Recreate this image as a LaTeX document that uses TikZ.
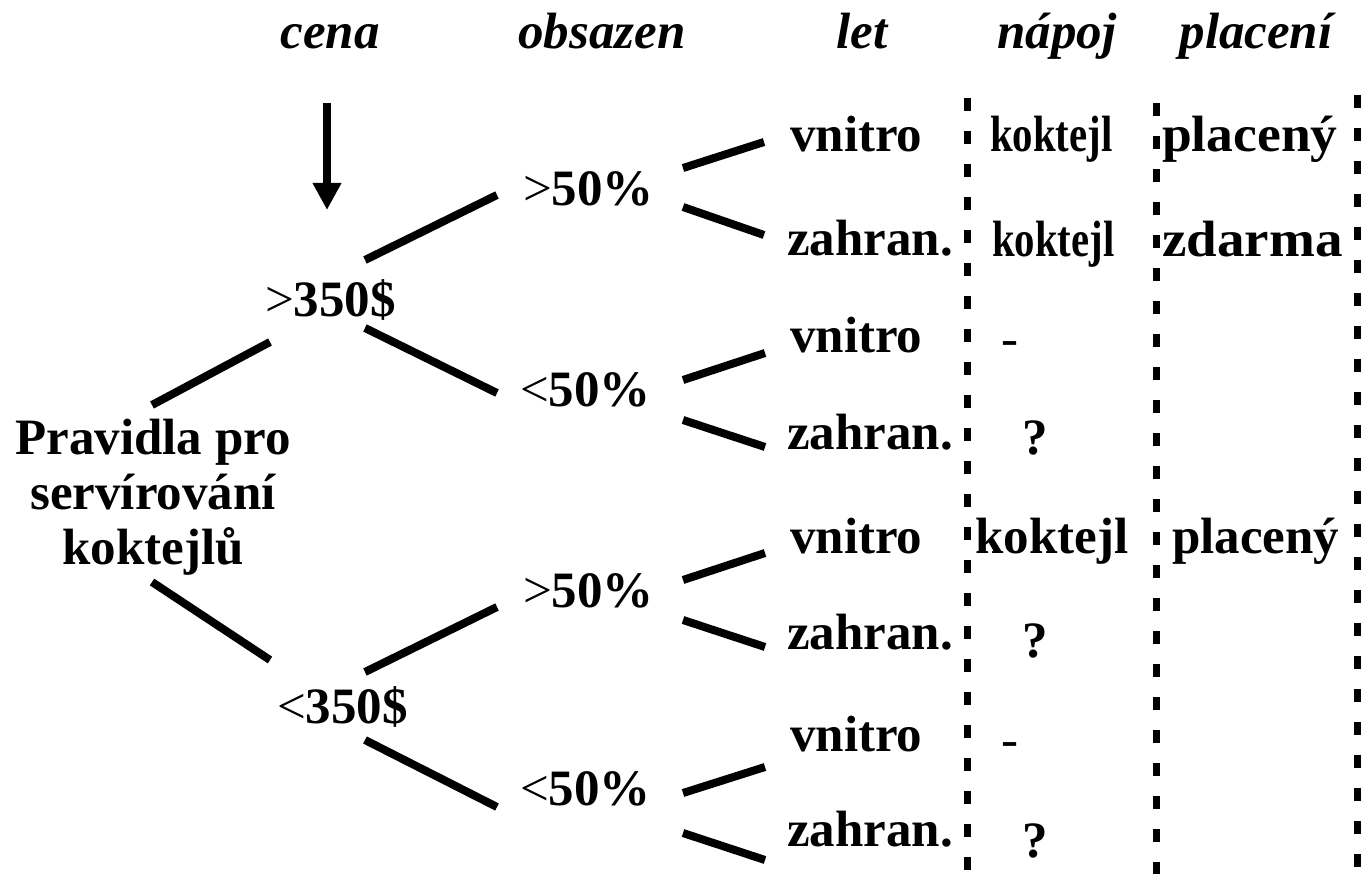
\documentclass[tikz,border=0pt]{standalone}
\usepackage{fontspec}
\setmainfont{Liberation Serif}
\usetikzlibrary{arrows.meta}

\tikzset{
  lbl/.style={inner sep=0pt, anchor=base west, font=\bfseries\fontsize{51}{51}\selectfont},
  hdr/.style={inner sep=0pt, anchor=base, font=\bfseries\itshape\fontsize{51}{51}\selectfont},
  branch/.style={line width=8pt},
  divider/.style={line width=7pt, dash pattern=on 13pt off 20pt},
  pointer/.style={line width=8pt, -{Triangle[length=27pt,width=27pt]}}
}

\begin{document}
\begin{tikzpicture}[x=1pt, y=-1pt]
\useasboundingbox (0,0) rectangle (1361,874);

% column headings
\node[hdr] (hcena) at (330,49) {cena};
\node[hdr] (hobs)  at (602,49) {obsazen};
\node[hdr] (hlet)  at (862,49) {let};
\node[hdr] (hnap)  at (1057,49) {nápoj};
\node[hdr] (hpla)  at (1256,49) {placení};

% price arrow
\coordinate (tip) at (327,210);
\draw[pointer] ([shift={(-3,54)}]hcena.base) -- (tip);

% root
\node[inner sep=0pt, align=center, font=\bfseries\fontsize{51}{55}\selectfont]
  (root) at (153,497) {Pravidla pro\\servírování\\koktejlů};

% price level
\node[lbl] (hi) at (265,317) {{\mdseries >}350\$};
\node[lbl] (lo) at (277,723) {{\mdseries <}350\$};

% occupancy level
\node[lbl] (a1) at (523,206) {{\mdseries >}50\%};
\node[lbl] (a2) at (520,407) {{\mdseries <}50\%};
\node[lbl] (a3) at (523,607) {{\mdseries >}50\%};
\node[lbl] (a4) at (520,805) {{\mdseries <}50\%};

% flight type
\node[lbl] (v1) at (790,152) {vnitro};
\node[lbl] (z2) at (787,256) {zahran.};
\node[lbl] (v3) at (790,353) {vnitro};
\node[lbl] (z4) at (787,450) {zahran.};
\node[lbl] (v5) at (790,553) {vnitro};
\node[lbl] (z6) at (787,649) {zahran.};
\node[lbl] (v7) at (790,751) {vnitro};
\node[lbl] (z8) at (787,846) {zahran.};

% drink
\node[lbl] (d1) at (990,152) {\scalebox{0.8}[1]{koktejl}};
\node[lbl] (d2) at (992,257) {\scalebox{0.8}[1]{koktejl}};
\node[lbl] (d3) at (1001,356) {\mdseries -};
\node[lbl] (d4) at (1022,455) {?};
\node[lbl] (d5) at (975,553) {koktejl};
\node[lbl] (d6) at (1022,657) {?};
\node[lbl] (d7) at (1001,756) {\mdseries -};
\node[lbl] (d8) at (1022,857) {?};

% payment
\node[lbl] (p1) at (1162,152) {\scalebox{1.05}[1]{placený}};
\node[lbl] (p2) at (1162,257) {\scalebox{1.08}[1]{zdarma}};
\node[lbl] (p5) at (1172,553) {placený};

% branches: root -> price
\draw[branch] ([shift={(-1,-92)}]root.center) -- ([shift={(5,25)}]hi.base west);
\draw[branch] ([shift={(-1,85)}]root.center) -- ([shift={(-7,-63)}]lo.base west);

% price -> occupancy
\draw[branch] ([shift={(100,-57)}]hi.base west) -- ([shift={(-26,-11)}]a1.base west);
\draw[branch] ([shift={(100,11)}]hi.base west)  -- ([shift={(-23,-14)}]a2.base west);
\draw[branch] ([shift={(88,-51)}]lo.base west)  -- ([shift={(-26,0)}]a3.base west);
\draw[branch] ([shift={(88,17)}]lo.base west)   -- ([shift={(-23,2)}]a4.base west);

% occupancy -> flight type
\draw[branch] ([shift={(160,-38)}]a1.base west) -- ([shift={(-26,-10)}]v1.base west);
\draw[branch] ([shift={(160,1)}]a1.base west)   -- ([shift={(-23,-21)}]z2.base west);
\draw[branch] ([shift={(163,-27)}]a2.base west) -- ([shift={(-25,0)}]v3.base west);
\draw[branch] ([shift={(163,13)}]a2.base west)  -- ([shift={(-22,-3)}]z4.base west);
\draw[branch] ([shift={(160,-27)}]a3.base west) -- ([shift={(-25,0)}]v5.base west);
\draw[branch] ([shift={(160,13)}]a3.base west)  -- ([shift={(-22,-2)}]z6.base west);
\draw[branch] ([shift={(163,-12)}]a4.base west) -- ([shift={(-25,16)}]v7.base west);
\draw[branch] ([shift={(163,28)}]a4.base west)  -- ([shift={(-22,14)}]z8.base west);

% column dividers
\draw[divider] (967,98)  -- (967,874);
\draw[divider] (1156,103) -- (1156,874);
\draw[divider] (1357,95) -- (1357,874);
\end{tikzpicture}
\end{document}
